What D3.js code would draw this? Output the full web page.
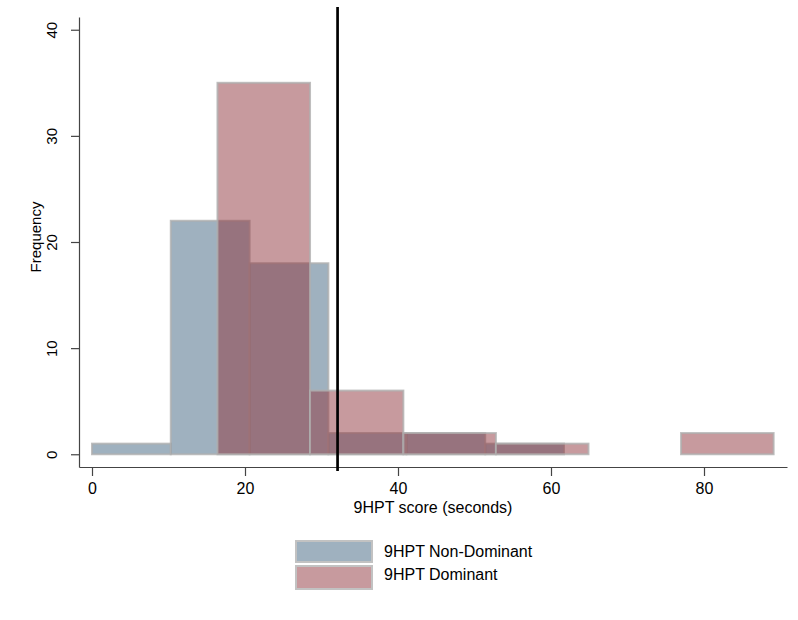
<!DOCTYPE html>
<html>
<head>
<meta charset="utf-8">
<script src="https://cdn.jsdelivr.net/npm/d3@7"></script>
<style>
  body { margin: 0; background: #fff; }
  svg { font-family: "Liberation Sans", Arial, Helvetica, sans-serif; }
</style>
</head>
<body>
<svg id="chart" width="798" height="620"></svg>
<script>
// histogram bins (seconds)
const nonDomEdges = [0, 10.3, 20.6, 30.9, 41.1, 51.4, 61.7];
const nonDomCounts = [1, 22, 18, 2, 2, 1];
const domEdges = [16.4, 28.5, 40.7, 52.8, 64.9, 77.0, 89.1];
const domCounts = [35, 6, 2, 1, 0, 2];
const cutoff = 32.1;
const xTicks = [0, 20, 40, 60, 80];
const yTicks = [0, 10, 20, 30, 40];
const seriesNames = ["9HPT Non-Dominant", "9HPT Dominant"];

const svg = d3.select("#chart");
const blue = "rgba(63,99,127,0.5)", red = "rgba(143,53,61,0.5)";

const x = d3.scaleLinear().domain([-1.7, 90.85]).range([79, 787]);
const y = d3.scaleLinear().domain([-1.2, 41.2]).range([467, 17]);

function bins(edges, counts) {
  return counts.map((c, i) => ({ x0: edges[i], x1: edges[i + 1], n: c })).filter(d => d.n > 0);
}

function drawBars(data, fill) {
  svg.append("g")
    .selectAll("rect")
    .data(data)
    .join("rect")
    .attr("x", d => x(d.x0))
    .attr("y", d => y(d.n))
    .attr("width", d => x(d.x1) - x(d.x0))
    .attr("height", d => y(0) - y(d.n))
    .attr("fill", fill)
    .attr("stroke", "rgba(175,175,175,0.8)")
    .attr("stroke-width", 2);
}

drawBars(bins(nonDomEdges, nonDomCounts), blue);
drawBars(bins(domEdges, domCounts), red);

// axes
const xAxis = svg.append("g")
  .attr("transform", `translate(0,${y.range()[0]})`)
  .call(d3.axisBottom(x).tickValues(xTicks).tickSize(9).tickSizeOuter(0));
xAxis.selectAll("text").attr("y", 27).attr("dy", 0).attr("font-size", 16).attr("fill", "#000");

const yAxis = svg.append("g")
  .attr("transform", `translate(${x.range()[0]},0)`)
  .call(d3.axisLeft(y).tickValues(yTicks).tickSize(8).tickSizeOuter(0));
yAxis.selectAll("text")
  .attr("transform", "rotate(-90)")
  .attr("x", 0).attr("y", -22).attr("dy", 0)
  .attr("text-anchor", "middle")
  .attr("font-size", 15).attr("fill", "#000");

svg.selectAll(".domain, .tick line").attr("stroke", "#444").attr("stroke-width", 1.2);

// vertical reference line
svg.append("line")
  .attr("x1", x(cutoff)).attr("x2", x(cutoff))
  .attr("y1", 7).attr("y2", 471)
  .attr("stroke", "#000").attr("stroke-width", 2.7);

// axis titles
svg.append("text")
  .attr("x", 433).attr("y", 513)
  .attr("text-anchor", "middle").attr("font-size", 16)
  .text("9HPT score (seconds)");

svg.append("text")
  .attr("transform", "translate(41,237) rotate(-90)")
  .attr("text-anchor", "middle").attr("font-size", 15)
  .text("Frequency");

// legend
const legend = svg.append("g");
const swatchFill = ["#9fb1bf", "#c79a9e"];
const swatchY = [541, 566];
legend.selectAll("rect")
  .data(seriesNames)
  .join("rect")
  .attr("x", 296).attr("y", (d, i) => swatchY[i])
  .attr("width", 76).attr("height", (d, i) => i === 0 ? 21 : 23)
  .attr("fill", (d, i) => swatchFill[i])
  .attr("stroke", "#c2c2c2").attr("stroke-width", 2);
legend.selectAll("text")
  .data(seriesNames)
  .join("text")
  .attr("x", 384).attr("y", (d, i) => [557, 580][i])
  .attr("font-size", 16)
  .text(d => d);
</script>
</body>
</html>
